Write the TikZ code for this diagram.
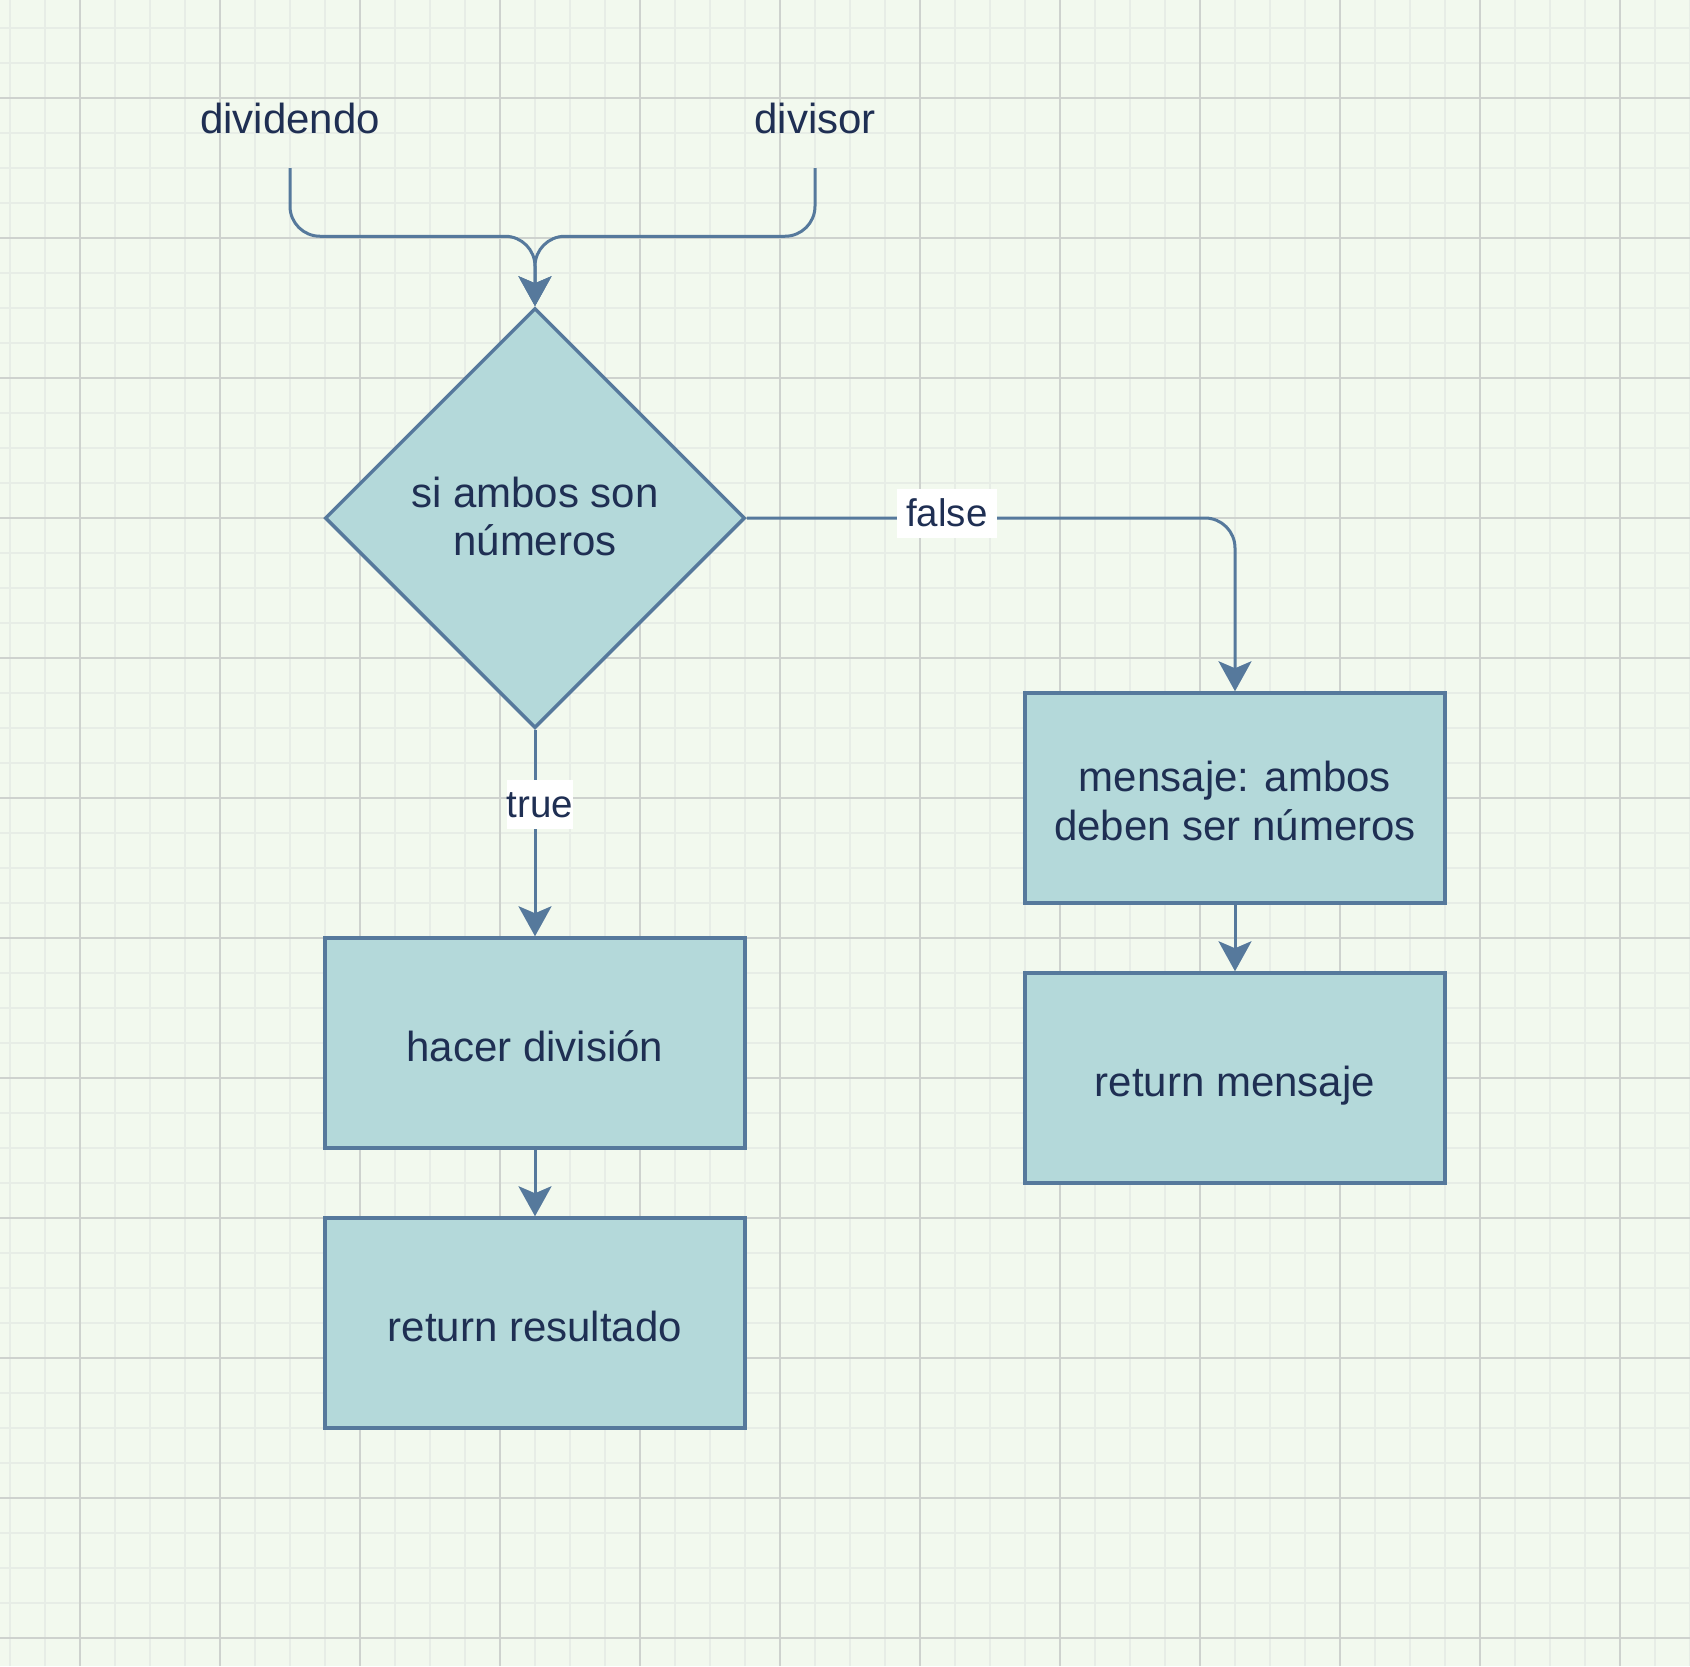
\documentclass[tikz,border=0pt]{standalone}
\usepackage{fontspec}
\setmainfont{Liberation Sans}
\usetikzlibrary{shapes.geometric,arrows.meta}
\definecolor{bg}{RGB}{242,249,238}
\definecolor{gridminor}{RGB}{231,237,230}
\definecolor{gridmajor}{RGB}{206,210,206}
\definecolor{strk}{RGB}{86,121,156}
\definecolor{fillc}{RGB}{180,217,218}
\definecolor{txt}{RGB}{31,47,83}
\newcommand\mltop[1]{\rule{0pt}{#1}}
\newcommand\mlbot{\rule[-9.6pt]{0pt}{0pt}}
\begin{document}
\begin{tikzpicture}[x=1pt,y=-1pt,
  shapebase/.style={draw=strk, fill=fillc, line width=3.5pt, inner sep=0pt, text=txt,
    font=\fontsize{42}{48.5}\selectfont, align=center},
  box/.style={shapebase, minimum width=420pt, minimum height=210pt},
  onebox/.style={box, text height=47pt, text depth=9.6pt},
  decision/.style={shapebase, diamond, aspect=1, minimum width=420pt, minimum height=420pt},
  inlabel/.style={anchor=base, inner sep=0pt, text depth=35pt, text=txt, font=\fontsize{42}{48}\selectfont},
  elabel/.style={sharp corners, fill=white, text=txt, font=\fontsize{38.5}{44}\selectfont, inner xsep=0pt,
    inner ysep=7.5pt, text height=30pt, text depth=4pt},
  conn/.style={draw=strk, line width=3pt, -{Stealth[length=30pt,width=33pt,inset=7pt]}}
]
% background and grid
\fill[bg] (0,0) rectangle (1690,1666);
\useasboundingbox (0,0) rectangle (1690,1666);
\foreach \x in {10,45,...,1690} \draw[gridminor, line width=1.5pt] (\x,0) -- (\x,1666);
\foreach \y in {28,63,...,1666} \draw[gridminor, line width=1.5pt] (0,\y) -- (1690,\y);
\foreach \x in {80,220,...,1690} \draw[gridmajor, line width=1.2pt] (\x,0) -- (\x,1666);
\foreach \y in {98,238,...,1666} \draw[gridmajor, line width=1.2pt] (0,\y) -- (1690,\y);

% nodes
\node[inlabel] (dividendo) at (290,133) {dividendo};
\node[inlabel] (divisor) at (815,133) {divisor};
\node[decision] (cond) at (535,518) {\mltop{36.7pt}si ambos son\\números\mlbot};
\node[onebox] (divi) at (535,1043) {hacer división};
\node[onebox] (res) at (535,1323) {return resultado};
\node[box] (msg) at (1235,798) {\mltop{45.5pt}mensaje: ambos\\deben ser números\mlbot};
\node[onebox] (ret) at (1235,1078) {return mensaje};

% connectors
\draw[conn, rounded corners=30pt] (dividendo.south) |- ([yshift=70pt]cond.north) -- (cond.north);
\draw[conn, rounded corners=30pt] (divisor.south) |- ([yshift=70pt]cond.north) -- (cond.north);
\draw[conn, rounded corners=30pt] (cond.east) -- node[elabel, pos=0.41, yshift=4.5pt, minimum width=100pt]{false} (cond.east -| msg.north) -- (msg.north);
\draw[conn] (cond.south) -- node[elabel, pos=0.364, xshift=5pt, minimum width=66pt]{true} (divi.north);
\draw[conn] (divi.south) -- (res.north);
\draw[conn] (msg.south) -- (ret.north);
\end{tikzpicture}
\end{document}
